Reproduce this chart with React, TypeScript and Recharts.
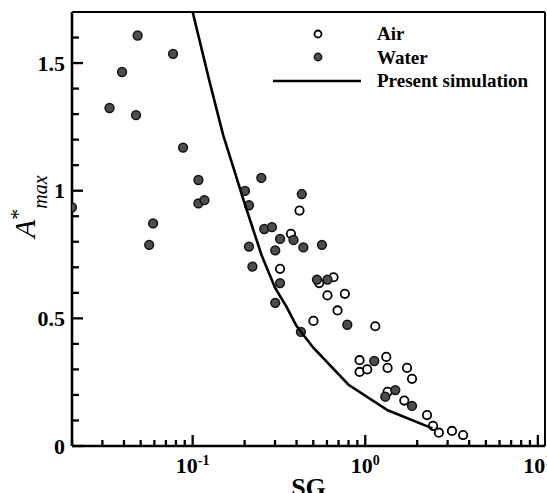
import React from 'react';
import { ScatterChart, Scatter, XAxis, YAxis, ReferenceLine, Customized } from 'recharts';

const FONT = '"Liberation Serif", "Times New Roman", serif';

// Air (open circles)
const airSG = [0.416, 0.371, 0.321, 0.541, 0.655, 0.604, 0.762, 0.691, 0.501, 1.143, 0.927, 0.927, 1.027, 1.324, 1.347, 1.746, 1.866, 1.347, 1.684, 2.28, 2.47, 2.67, 3.18, 3.69];
const airA = [0.922, 0.831, 0.694, 0.638, 0.661, 0.590, 0.596, 0.531, 0.490, 0.469, 0.336, 0.290, 0.300, 0.349, 0.306, 0.306, 0.263, 0.212, 0.178, 0.121, 0.079, 0.052, 0.059, 0.043];

// Water (filled circles)
const waterSG = [0.020, 0.048, 0.077, 0.039, 0.033, 0.047, 0.088, 0.108, 0.108, 0.117, 0.059, 0.056, 0.201, 0.250, 0.212, 0.260, 0.288, 0.212, 0.222, 0.301, 0.301, 0.321, 0.321, 0.384, 0.438, 0.561, 0.429, 0.525, 0.604, 0.787, 0.424, 1.128, 1.493, 1.306, 1.866];
const waterA = [0.935, 1.608, 1.536, 1.465, 1.324, 1.296, 1.169, 1.042, 0.950, 0.963, 0.872, 0.788, 0.999, 1.050, 0.943, 0.850, 0.857, 0.781, 0.703, 0.766, 0.561, 0.638, 0.811, 0.807, 0.778, 0.788, 0.987, 0.652, 0.652, 0.475, 0.447, 0.333, 0.219, 0.193, 0.157];

// Present simulation (line)
const simSG = [0.1, 0.125, 0.15, 0.2, 0.25, 0.3, 0.35, 0.4, 0.5, 0.8, 1.35, 2.45];
const simA = [1.70, 1.43, 1.22, 0.95, 0.75, 0.62, 0.545, 0.47, 0.385, 0.24, 0.14, 0.069];

// Axes
const xDomain = [0.02, 11];
const yDomain = [0, 1.7];
const xMajorTicks = [0.1, 1, 10];
const xMajorBase = ['10', '10', '10'];
const xMajorExp = ['-1', '0', '1'];
const xMinorTicks = [0.02, 0.03, 0.04, 0.05, 0.06, 0.07, 0.08, 0.09, 0.2, 0.3, 0.4, 0.5, 0.6, 0.7, 0.8, 0.9, 2, 3, 4, 5, 6, 7, 8, 9];
const yMajorTicks = [0, 0.5, 1, 1.5];
const yMajorLabels = ['0', '0.5', '1', '1.5'];
const yMinorTicks = [0.1, 0.2, 0.3, 0.4, 0.6, 0.7, 0.8, 0.9, 1.1, 1.2, 1.3, 1.4, 1.6];

const legendLabels = ['Air', 'Water', 'Present simulation'];
const xTitle = 'SG';

const airData = airSG.map((x, i) => ({ x, y: airA[i] }));
const waterData = waterSG.map((x, i) => ({ x, y: waterA[i] }));
const simData = simSG.map((x, i) => ({ x, y: simA[i] }));
const xTicks = [...xMinorTicks, ...xMajorTicks].sort((a, b) => a - b);
const yTicks = [...yMinorTicks, ...yMajorTicks].sort((a, b) => a - b);

const TICK_COLOR = '#000';

const XTick = (props: any) => {
  const x = Number(props.x);
  const y = Number(props.y);
  const i = xMajorTicks.indexOf(props.payload.value);
  const major = i >= 0;
  const len = major ? 11 : 6;
  return (
    <g>
      <line x1={x} x2={x} y1={y} y2={y - len} stroke={TICK_COLOR} strokeWidth={2.3} />
      {major && (
        <text x={x} y={y + 27} textAnchor="middle" fontFamily={FONT} fontWeight="bold" fontSize={22} fill="#000">
          {xMajorBase[i]}
          <tspan dy={-8} fontSize={14}>{xMajorExp[i]}</tspan>
        </text>
      )}
    </g>
  );
};

const YTick = (props: any) => {
  const x = Number(props.x);
  const y = Number(props.y);
  const i = yMajorTicks.indexOf(props.payload.value);
  const major = i >= 0;
  const len = major ? 11 : 7;
  return (
    <g>
      <line x1={x} x2={x + len} y1={y} y2={y} stroke={TICK_COLOR} strokeWidth={2.3} />
      {major && (
        <text x={x - 7} y={y} dy="0.35em" textAnchor="end" fontFamily={FONT} fontWeight="bold" fontSize={22} fill="#000">
          {yMajorLabels[i]}
        </text>
      )}
    </g>
  );
};

const AirDot = (props: any) => (
  <circle cx={props.cx} cy={props.cy} r={4.2} fill="#fff" stroke="#000" strokeWidth={1.8} />
);
const WaterDot = (props: any) => (
  <circle cx={props.cx} cy={props.cy} r={4.4} fill="#4d4d4d" stroke="#111" strokeWidth={1.5} />
);
const NoDot = () => <g />;

const Overlay = () => (
  <g fontFamily={FONT} fill="#000">
    <text transform="translate(35,238) rotate(-90)" fontStyle="italic" fontSize={30} fill="#000">
      A
      <tspan dy={-10} fontSize={22} fontStyle="normal">*</tspan>
      <tspan dy={22} fontSize={20}>max</tspan>
    </text>
    <text x={308.5} y={496} textAnchor="middle" fontWeight="bold" fontSize={26} fill="#000">{xTitle}</text>
    <circle cx={318} cy={34} r={3.5} fill="#fff" stroke="#000" strokeWidth={1.8} />
    <circle cx={318} cy={57} r={3.7} fill="#4d4d4d" stroke="#111" strokeWidth={1.4} />
    <line x1={273} x2={361} y1={81} y2={81} stroke="#000" strokeWidth={2.7} />
    <text x={377} y={40} fontWeight="bold" fontSize={19} fill="#000">{legendLabels[0]}</text>
    <text x={377} y={64} fontWeight="bold" fontSize={19} fill="#000">{legendLabels[1]}</text>
    <text x={377} y={87} fontWeight="bold" fontSize={19} fill="#000">{legendLabels[2]}</text>
  </g>
);

export default function App() {
  return (
    <div style={{ position: 'absolute', left: 0, top: 0, background: '#fff' }}>
      <ScatterChart width={547} height={493} margin={{ top: 12, right: 2, bottom: 7, left: 12 }}>
        <XAxis
          dataKey="x"
          type="number"
          scale="log"
          domain={xDomain}
          allowDataOverflow
          ticks={xTicks}
          interval={0}
          tick={XTick}
          tickLine={false}
          tickSize={0}
          tickMargin={0}
          height={40}
          axisLine={{ stroke: '#000', strokeWidth: 2.6 }}
        />
        <YAxis
          dataKey="y"
          type="number"
          domain={yDomain}
          allowDataOverflow
          ticks={yTicks}
          interval={0}
          tick={YTick}
          tickLine={false}
          tickSize={0}
          tickMargin={0}
          width={60}
          axisLine={{ stroke: '#000', strokeWidth: 2.6 }}
        />
        <ReferenceLine y={1.7} stroke="#000" strokeWidth={2} />
        <ReferenceLine x={11} stroke="#000" strokeWidth={2} />
        <Scatter data={airData} shape={<AirDot />} isAnimationActive={false} />
        <Scatter data={waterData} shape={<WaterDot />} isAnimationActive={false} />
        <Scatter data={simData} shape={<NoDot />} line={{ stroke: '#000', strokeWidth: 2.6 }} isAnimationActive={false} />
        <Customized component={Overlay} />
      </ScatterChart>
    </div>
  );
}
